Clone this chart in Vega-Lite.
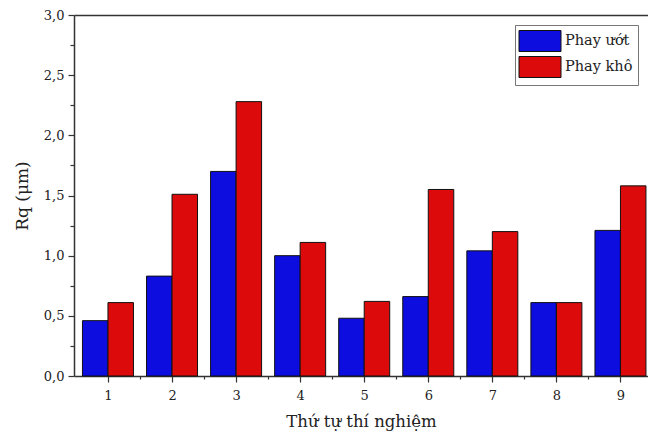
{
  "$schema": "https://vega.github.io/schema/vega-lite/v6.json",
  "autosize": "none",
  "width": 574,
  "height": 361,
  "padding": {"left": 74, "top": 15, "right": 0, "bottom": 58},
  "background": "white",
  "config": {
    "view": {"stroke": null},
    "font": "DejaVu Serif",
    "axis": {"domainColor": "#333333", "domainWidth": 1.5, "tickColor": "#333333", "tickWidth": 1.2, "labelFont": "DejaVu Serif", "titleFont": "DejaVu Serif", "labelColor": "#222222", "titleColor": "#222222", "titleFontWeight": "normal", "grid": false},
    "legend": {"labelFont": "DejaVu Serif"}
  },
  "data": {
    "values": [
      {"t": 1, "s": "Phay ướt", "v": 0.46}, {"t": 1, "s": "Phay khô", "v": 0.61},
      {"t": 2, "s": "Phay ướt", "v": 0.83}, {"t": 2, "s": "Phay khô", "v": 1.51},
      {"t": 3, "s": "Phay ướt", "v": 1.70}, {"t": 3, "s": "Phay khô", "v": 2.28},
      {"t": 4, "s": "Phay ướt", "v": 1.00}, {"t": 4, "s": "Phay khô", "v": 1.11},
      {"t": 5, "s": "Phay ướt", "v": 0.48}, {"t": 5, "s": "Phay khô", "v": 0.62},
      {"t": 6, "s": "Phay ướt", "v": 0.66}, {"t": 6, "s": "Phay khô", "v": 1.55},
      {"t": 7, "s": "Phay ướt", "v": 1.04}, {"t": 7, "s": "Phay khô", "v": 1.20},
      {"t": 8, "s": "Phay ướt", "v": 0.61}, {"t": 8, "s": "Phay khô", "v": 0.61},
      {"t": 9, "s": "Phay ướt", "v": 1.21}, {"t": 9, "s": "Phay khô", "v": 1.58}
    ]
  },
  "encoding": {
    "y": {
      "field": "v", "type": "quantitative",
      "scale": {"domain": [0, 3], "nice": false, "zero": true, "padding": 0},
      "axis": {
        "title": "Rq (μm)", "titleFontSize": 17, "titlePadding": 12,
        "values": [0, 0.25, 0.5, 0.75, 1, 1.25, 1.5, 1.75, 2, 2.25, 2.5, 2.75, 3],
        "labelExpr": "abs(datum.value*2 - round(datum.value*2)) > 0.01 ? '' : replace(format(datum.value, '.1f'), '.', ',')",
        "tickSize": {"condition": {"test": "abs(datum.value*2 - round(datum.value*2)) > 0.01", "value": 4}, "value": 6},
        "labelFontSize": 13, "labelPadding": 4
      }
    },
    "color": {
      "field": "s", "type": "nominal",
      "scale": {"domain": ["Phay ướt", "Phay khô"], "range": ["#0d0de0", "#dc0a0a"]},
      "legend": {
        "title": null, "orient": "none", "legendX": 441, "legendY": 10,
        "symbolType": "M-2,-1H2V1H-2Z", "symbolSize": 441, "symbolOffset": 9,
        "symbolStrokeColor": "#111111", "symbolStrokeWidth": 1,
        "labelFont": "DejaVu Serif", "labelFontSize": 14.5, "labelColor": "#222222",
        "rowPadding": 0, "labelOffset": 14,
        "strokeColor": "#777777", "fillColor": "white", "padding": 5, "cornerRadius": 0
      }
    }
  },
  "layer": [
    {
      "transform": [{"filter": "datum.s == 'Phay ướt'"}],
      "mark": {"type": "bar", "width": 25.5, "xOffset": -12.75, "stroke": "#111111", "strokeWidth": 1},
      "encoding": {
        "x": {
          "field": "t", "type": "quantitative",
          "scale": {"domain": [0.47, 9.43], "nice": false, "zero": false, "padding": 0},
          "axis": {
            "orient": "bottom",
            "title": "Thứ tự thí nghiệm", "titleFontSize": 16.5, "titlePadding": 11,
            "values": [1, 1.5, 2, 2.5, 3, 3.5, 4, 4.5, 5, 5.5, 6, 6.5, 7, 7.5, 8, 8.5, 9],
            "labelExpr": "datum.value % 1 != 0 ? '' : format(datum.value, 'd')",
            "tickSize": {"condition": {"test": "datum.value % 1 != 0", "value": 3}, "value": 6},
            "labelFontSize": 13, "labelPadding": 7
          }
        }
      }
    },
    {
      "transform": [{"filter": "datum.s == 'Phay khô'"}],
      "mark": {"type": "bar", "width": 25.5, "xOffset": 12.75, "stroke": "#111111", "strokeWidth": 1},
      "encoding": {
        "x": {
          "field": "t", "type": "quantitative",
          "scale": {"domain": [0.47, 9.43], "nice": false, "zero": false, "padding": 0},
          "axis": {"orient": "top", "title": null, "labels": false, "ticks": false, "domain": true}
        }
      }
    }
  ],
  "resolve": {"axis": {"x": "independent"}}
}
